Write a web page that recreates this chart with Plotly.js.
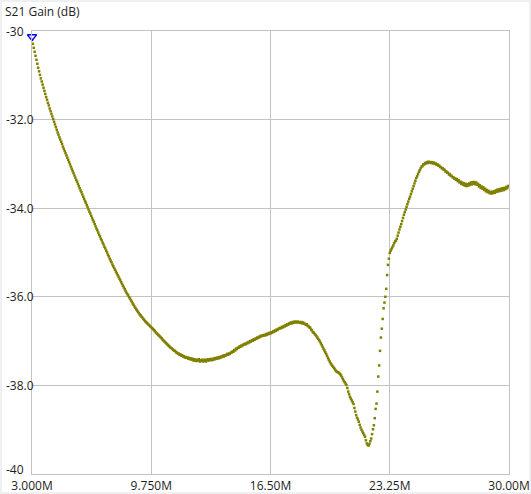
<!DOCTYPE html>
<html>
<head>
<meta charset="utf-8">
<script src="https://cdn.plot.ly/plotly-3.0.1.min.js"></script>
<style>
  html, body { margin: 0; padding: 0; background: #ffffff; }
  #wrap { position: relative; width: 531px; height: 494px; }
  #chart { width: 531px; height: 494px; }
  #frame { position: absolute; left: 0; top: 0; width: 531px; height: 494px;
           box-sizing: border-box; border: 2px solid #f0f0f0; pointer-events: none; }
</style>
</head>
<body>
<div id="wrap"><div id="chart"></div><div id="frame"></div></div>
<script>
// Sweep settings (MHz)
const FREQ_START_MHZ = 3.0;
const FREQ_STEP_MHZ = 0.05;

// S21 gain readings (dB), one row per MHz: k.00 ... k.95
const gainDb = [
  -30.20,-30.29,-30.38,-30.47,-30.56,-30.65,-30.74,-30.83,-30.91,-30.99,-31.07,-31.14,-31.21,-31.28,-31.35,-31.42,-31.49,-31.55,-31.62,-31.68,
  -31.75,-31.81,-31.87,-31.93,-31.99,-32.05,-32.11,-32.17,-32.23,-32.29,-32.34,-32.40,-32.45,-32.50,-32.55,-32.61,-32.66,-32.71,-32.76,-32.81,
  -32.86,-32.91,-32.96,-33.01,-33.06,-33.11,-33.16,-33.21,-33.26,-33.31,-33.36,-33.40,-33.45,-33.50,-33.55,-33.60,-33.64,-33.69,-33.74,-33.79,
  -33.84,-33.88,-33.93,-33.98,-34.03,-34.08,-34.12,-34.17,-34.22,-34.27,-34.31,-34.36,-34.41,-34.46,-34.50,-34.55,-34.60,-34.64,-34.69,-34.73,
  -34.78,-34.82,-34.87,-34.91,-34.96,-35.00,-35.05,-35.09,-35.14,-35.18,-35.22,-35.27,-35.31,-35.35,-35.39,-35.43,-35.47,-35.51,-35.55,-35.59,
  -35.63,-35.67,-35.71,-35.75,-35.79,-35.83,-35.87,-35.91,-35.94,-35.97,-36.01,-36.04,-36.08,-36.11,-36.15,-36.18,-36.22,-36.25,-36.28,-36.31,
  -36.34,-36.37,-36.40,-36.42,-36.45,-36.47,-36.50,-36.52,-36.55,-36.57,-36.59,-36.61,-36.63,-36.65,-36.67,-36.69,-36.71,-36.73,-36.75,-36.77,
  -36.80,-36.82,-36.84,-36.86,-36.88,-36.90,-36.92,-36.94,-36.97,-36.99,-37.01,-37.03,-37.05,-37.07,-37.09,-37.11,-37.13,-37.15,-37.16,-37.18,
  -37.20,-37.22,-37.22,-37.25,-37.26,-37.28,-37.28,-37.31,-37.30,-37.33,-37.32,-37.35,-37.34,-37.37,-37.36,-37.38,-37.37,-37.40,-37.38,-37.41,
  -37.39,-37.42,-37.40,-37.44,-37.41,-37.43,-37.45,-37.42,-37.44,-37.41,-37.46,-37.43,-37.45,-37.42,-37.46,-37.44,-37.42,-37.46,-37.43,-37.41,
  -37.44,-37.41,-37.43,-37.40,-37.43,-37.42,-37.39,-37.41,-37.38,-37.40,-37.37,-37.39,-37.36,-37.38,-37.35,-37.36,-37.33,-37.35,-37.32,-37.33,
  -37.31,-37.29,-37.31,-37.28,-37.29,-37.26,-37.26,-37.23,-37.24,-37.20,-37.21,-37.17,-37.18,-37.15,-37.15,-37.12,-37.13,-37.10,-37.11,-37.08,
  -37.08,-37.06,-37.07,-37.04,-37.05,-37.02,-37.03,-37.00,-37.01,-36.98,-36.99,-36.96,-36.97,-36.94,-36.95,-36.92,-36.93,-36.90,-36.91,-36.88,
  -36.89,-36.87,-36.88,-36.86,-36.87,-36.84,-36.86,-36.83,-36.84,-36.81,-36.83,-36.80,-36.81,-36.78,-36.79,-36.76,-36.77,-36.74,-36.75,-36.72,
  -36.72,-36.70,-36.71,-36.68,-36.69,-36.66,-36.67,-36.64,-36.65,-36.62,-36.63,-36.60,-36.61,-36.58,-36.60,-36.57,-36.59,-36.56,-36.58,-36.56,
  -36.58,-36.56,-36.58,-36.57,-36.59,-36.57,-36.60,-36.58,-36.61,-36.61,-36.63,-36.62,-36.66,-36.66,-36.69,-36.70,-36.74,-36.76,-36.80,-36.81,
  -36.84,-36.86,-36.89,-36.92,-36.95,-36.98,-37.01,-37.05,-37.09,-37.13,-37.17,-37.21,-37.25,-37.29,-37.33,-37.38,-37.42,-37.46,-37.50,-37.53,
  -37.56,-37.58,-37.61,-37.64,-37.67,-37.69,-37.70,-37.71,-37.73,-37.75,-37.78,-37.82,-37.86,-37.90,-37.93,-37.96,-37.99,-38.06,-38.14,-38.20,
  -38.26,-38.30,-38.34,-38.38,-38.42,-38.51,-38.59,-38.67,-38.73,-38.77,-38.82,-38.89,-38.95,-39.00,-39.04,-39.08,-39.12,-39.16,-39.24,-39.31,
  -39.34,-39.36,-39.32,-39.26,-39.20,-39.10,-38.99,-38.90,-38.74,-38.53,-38.41,-38.14,-37.80,-37.55,-37.22,-36.92,-36.72,-36.50,-36.26,-36.13,
  -36.00,-35.82,-35.51,-35.28,-35.14,-35.01,-34.96,-34.92,-34.88,-34.84,-34.79,-34.75,-34.73,-34.69,-34.62,-34.55,-34.48,-34.42,-34.36,-34.29,
  -34.22,-34.15,-34.09,-34.03,-33.97,-33.91,-33.85,-33.79,-33.74,-33.68,-33.62,-33.56,-33.50,-33.44,-33.38,-33.32,-33.28,-33.23,-33.18,-33.14,
  -33.10,-33.06,-33.05,-33.01,-33.01,-32.98,-32.99,-32.96,-32.98,-32.95,-32.97,-32.96,-32.98,-32.96,-32.99,-32.97,-33.00,-32.99,-33.02,-33.01,
  -33.04,-33.04,-33.07,-33.07,-33.10,-33.10,-33.13,-33.13,-33.17,-33.17,-33.20,-33.20,-33.24,-33.23,-33.27,-33.27,-33.30,-33.30,-33.33,-33.33,
  -33.36,-33.34,-33.39,-33.37,-33.42,-33.40,-33.45,-33.42,-33.47,-33.44,-33.49,-33.45,-33.50,-33.46,-33.49,-33.44,-33.47,-33.42,-33.46,-33.41,
  -33.45,-33.41,-33.46,-33.42,-33.47,-33.45,-33.51,-33.48,-33.54,-33.51,-33.56,-33.53,-33.59,-33.56,-33.62,-33.59,-33.64,-33.61,-33.66,-33.63,
  -33.67,-33.63,-33.66,-33.62,-33.65,-33.60,-33.63,-33.58,-33.62,-33.57,-33.61,-33.56,-33.60,-33.55,-33.59,-33.54,-33.57,-33.52,-33.55,-33.50,
  -33.50
];

// Axis ticks
const xTickVals = [3.0, 9.75, 16.5, 23.25, 30.0];
const xTickText = ['3.000M', '9.750M', '16.50M', '23.25M', '30.00M'];
const yTickVals = [-30, -32, -34, -36, -38, -40];
const yTickText = ['-30', '-32.0', '-34.0', '-36.0', '-38.0', '-40'];

const titleText = 'S21 Gain (dB)';

// Frequency grid of the sweep
const freqMHz = gainDb.map((_, i) => +(FREQ_START_MHZ + i * FREQ_STEP_MHZ).toFixed(2));

const GRID = '#c3c3c3';
const TEXT = '#1e1e1e';
const FONT = 'Open Sans, Noto Sans, sans-serif';

const traces = [
  {
    type: 'scatter', mode: 'markers',
    x: freqMHz, y: gainDb,
    marker: { symbol: 'square', size: 2.5, color: '#808000', line: { width: 0 } },
    hoverinfo: 'x+y'
  },
  {
    type: 'scatter', mode: 'markers',
    x: [freqMHz[0]], y: [gainDb[0] + 0.07],
    marker: { symbol: 'triangle-down-open', size: 8, color: '#0000ff', line: { width: 1.3, color: '#0000ff' } },
    cliponaxis: false,
    hoverinfo: 'skip'
  }
];

const yLabelAnn = yTickVals.map((v, i) => ({
  xref: 'paper', yref: 'y', x: -27 / 477, y: v,
  xanchor: 'left', yanchor: 'middle', showarrow: false, borderpad: 0,
  yshift: (i === yTickVals.length - 1) ? 5 : 0,
  text: yTickText[i], font: { family: FONT, size: 12, color: TEXT }
}));

const layout = {
  width: 531, height: 494,
  margin: { l: 32, r: 22, t: 31, b: 20, pad: 0 },
  paper_bgcolor: '#ffffff', plot_bgcolor: '#ffffff',
  showlegend: false,
  font: { family: FONT, size: 12, color: TEXT },
  title: {
    text: titleText, xref: 'container', yref: 'container',
    x: 5 / 531, xanchor: 'left', y: 1 - 12 / 494, yanchor: 'middle',
    font: { family: FONT, size: 12, color: TEXT }
  },
  xaxis: {
    range: [3, 30], tickmode: 'array', tickvals: xTickVals, ticktext: xTickText,
    showgrid: true, gridcolor: GRID, gridwidth: 1, zeroline: false,
    showline: true, linecolor: GRID, linewidth: 1, mirror: true,
    ticks: '', automargin: false, fixedrange: true, ticklabelstandoff: 1,
    tickfont: { family: FONT, size: 12, color: TEXT }
  },
  yaxis: {
    range: [-40, -30], tickmode: 'array', tickvals: yTickVals, ticktext: yTickText,
    showticklabels: false,
    showgrid: true, gridcolor: GRID, gridwidth: 1, zeroline: false,
    showline: true, linecolor: GRID, linewidth: 1, mirror: true,
    ticks: '', automargin: false, fixedrange: true
  },
  annotations: yLabelAnn
};

Plotly.newPlot('chart', traces, layout, { displayModeBar: false, staticPlot: true });
</script>
</body>
</html>
